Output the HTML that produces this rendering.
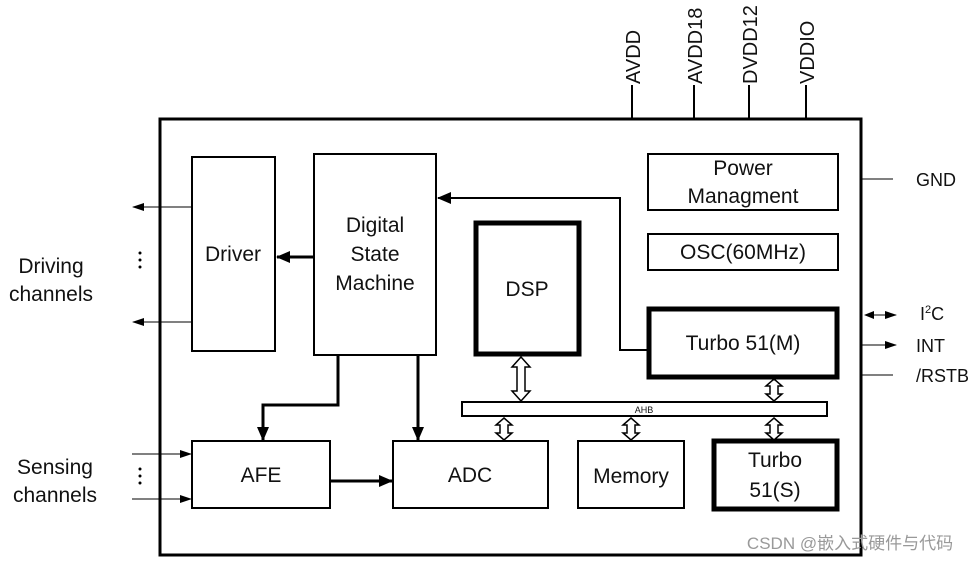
<!DOCTYPE html>
<html><head><style>body{margin:0;background:#fff}svg{display:block}text{font-family:"Liberation Sans",Arial,sans-serif;fill:#111}</style></head><body>
<svg width="980" height="562" viewBox="0 0 980 562" xmlns="http://www.w3.org/2000/svg">
<defs>
<marker id="a" markerWidth="12" markerHeight="10" refX="11" refY="5" orient="auto" markerUnits="userSpaceOnUse"><path d="M0,1 L12,5 L0,9 Z" fill="#000"/></marker>
<marker id="b" markerWidth="14" markerHeight="12" refX="13" refY="6" orient="auto" markerUnits="userSpaceOnUse"><path d="M0,0 L14,6 L0,12 Z" fill="#000"/></marker>
</defs>
<rect x="160" y="119" width="701" height="436" fill="none" stroke="#000" stroke-width="3"/>
<g stroke="#000" stroke-width="2">
<line x1="632" y1="85" x2="632" y2="119"/><line x1="694" y1="85" x2="694" y2="119"/><line x1="749" y1="85" x2="749" y2="119"/><line x1="806" y1="85" x2="806" y2="119"/>
</g>
<g font-size="20">
<text transform="translate(640,84) rotate(-90)">AVDD</text>
<text transform="translate(702,84) rotate(-90)">AVDD18</text>
<text transform="translate(757,84) rotate(-90)">DVDD12</text>
<text transform="translate(814,84) rotate(-90)">VDDIO</text>
</g>
<g fill="#fff" stroke="#000" stroke-width="2">
<rect x="192" y="157" width="83" height="194"/>
<rect x="314" y="154" width="122" height="201"/>
<rect x="648" y="154" width="190" height="56"/>
<rect x="648" y="234" width="190" height="36"/>
<rect x="462" y="402" width="365" height="14"/>
<rect x="192" y="441" width="138" height="67"/>
<rect x="393" y="441" width="155" height="67"/>
<rect x="578" y="441" width="106" height="67"/>
</g>
<g fill="#fff" stroke="#000" stroke-width="5">
<rect x="476" y="223" width="103" height="131"/>
<rect x="649" y="309" width="188" height="68"/>
<rect x="714" y="441" width="123" height="68"/>
</g>
<g font-size="21" text-anchor="middle">
<text x="233" y="261">Driver</text>
<text x="375" y="232">Digital</text><text x="375" y="261">State</text><text x="375" y="290">Machine</text>
<text x="527" y="296">DSP</text>
<text x="743" y="175">Power</text><text x="743" y="203">Managment</text>
<text x="743" y="259">OSC(60MHz)</text>
<text x="743" y="350">Turbo 51(M)</text>
<text x="261" y="482">AFE</text>
<text x="470" y="482">ADC</text>
<text x="631" y="483">Memory</text>
<text x="775" y="467">Turbo</text><text x="775" y="497">51(S)</text>
<text x="51" y="273">Driving</text><text x="51" y="301">channels</text>
<text x="55" y="474">Sensing</text><text x="55" y="502">channels</text>
</g>
<text x="644" y="413" font-size="9" text-anchor="middle">AHB</text>
<g font-size="18">
<text x="916" y="186">GND</text>
<text x="920" y="320">I<tspan font-size="11" dy="-7">2</tspan><tspan dy="7">C</tspan></text>
<text x="916" y="352">INT</text>
<text x="916" y="382">/RSTB</text>
</g>
<g stroke="#000" fill="none">
<line x1="314" y1="257" x2="277" y2="257" stroke-width="3" marker-end="url(#b)"/>
<polyline points="648,350 620,350 620,198 438,198" stroke-width="2" marker-end="url(#b)"/>
<polyline points="338,355 338,405 263,405 263,440" stroke-width="3" marker-end="url(#b)"/>
<line x1="418" y1="355" x2="418" y2="440" stroke-width="3" marker-end="url(#b)"/>
<line x1="330" y1="481" x2="392" y2="481" stroke-width="3" marker-end="url(#b)"/>
<line x1="192" y1="207" x2="133" y2="207" stroke-width="1" marker-end="url(#a)"/>
<line x1="192" y1="322" x2="133" y2="322" stroke-width="1" marker-end="url(#a)"/>
<line x1="132" y1="454" x2="191" y2="454" stroke-width="1" marker-end="url(#a)"/>
<line x1="132" y1="499" x2="191" y2="499" stroke-width="1" marker-end="url(#a)"/>
<line x1="861" y1="179" x2="893" y2="179" stroke-width="1"/>
<line x1="866" y1="315" x2="896" y2="315" stroke-width="1" marker-end="url(#a)"/>
<path d="M864,315 L874,311 L874,319 Z" fill="#000" stroke="none"/>
<line x1="861" y1="345" x2="896" y2="345" stroke-width="1" marker-end="url(#a)"/>
<line x1="861" y1="375" x2="893" y2="375" stroke-width="1"/>
</g>
<g fill="#000">
<circle cx="140" cy="253" r="1.5"/><circle cx="140" cy="260" r="1.5"/><circle cx="140" cy="267" r="1.5"/>
<circle cx="140" cy="469" r="1.5"/><circle cx="140" cy="476" r="1.5"/><circle cx="140" cy="483" r="1.5"/>
</g>
<g fill="#fff" stroke="#000" stroke-width="1.5">
<path d="M521,357 L530,367 L525,367 L525,391 L530,391 L521,401 L512,391 L517,391 L517,367 L512,367 Z"/>
<path d="M774,379 L782,386 L778,386 L778,394 L782,394 L774,401 L766,394 L770,394 L770,386 L766,386 Z"/>
<path d="M504,418 L512,425 L508,425 L508,433 L512,433 L504,440 L496,433 L500,433 L500,425 L496,425 Z"/>
<path d="M631,418 L639,425 L635,425 L635,433 L639,433 L631,440 L623,433 L627,433 L627,425 L623,425 Z"/>
<path d="M774,418 L782,425 L778,425 L778,433 L782,433 L774,440 L766,433 L770,433 L770,425 L766,425 Z"/>
</g>
<text x="850" y="549" font-size="17" text-anchor="middle" style="fill:#999;font-family:'Liberation Sans','Noto Sans CJK SC',sans-serif">CSDN @嵌入式硬件与代码</text>
</svg>
</body></html>
